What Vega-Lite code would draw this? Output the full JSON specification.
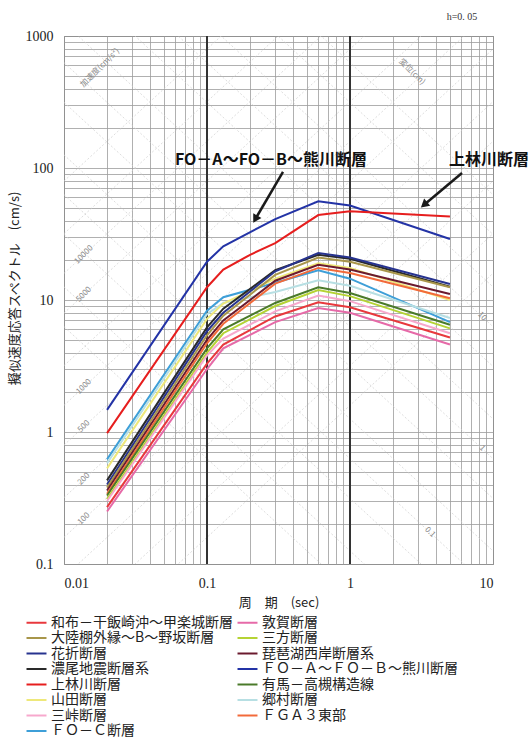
{
  "$schema": "https://vega.github.io/schema/vega-lite/v6.json",
  "width": 429,
  "height": 528,
  "autosize": {"type": "none"},
  "padding": {"left": 64, "top": 36, "right": 36, "bottom": 176},
  "background": "white",
  "config": {
    "view": {"stroke": "#666", "strokeWidth": 1},
    "font": "Liberation Serif"
  },
  "datasets": {
    "spec": [
      {"name": "ＦＯ－Ａ～ＦＯ－Ｂ～熊川断層", "T": 0.02, "V": 1.47},
      {"name": "ＦＯ－Ａ～ＦＯ－Ｂ～熊川断層", "T": 0.1, "V": 19.5},
      {"name": "ＦＯ－Ａ～ＦＯ－Ｂ～熊川断層", "T": 0.13, "V": 25.5},
      {"name": "ＦＯ－Ａ～ＦＯ－Ｂ～熊川断層", "T": 0.3, "V": 41},
      {"name": "ＦＯ－Ａ～ＦＯ－Ｂ～熊川断層", "T": 0.6, "V": 56},
      {"name": "ＦＯ－Ａ～ＦＯ－Ｂ～熊川断層", "T": 1, "V": 52},
      {"name": "ＦＯ－Ａ～ＦＯ－Ｂ～熊川断層", "T": 5, "V": 29},
      {"name": "上林川断層", "T": 0.02, "V": 0.98},
      {"name": "上林川断層", "T": 0.1, "V": 12.5},
      {"name": "上林川断層", "T": 0.13, "V": 17},
      {"name": "上林川断層", "T": 0.2, "V": 22},
      {"name": "上林川断層", "T": 0.3, "V": 27},
      {"name": "上林川断層", "T": 0.6, "V": 44},
      {"name": "上林川断層", "T": 1, "V": 47},
      {"name": "上林川断層", "T": 5, "V": 43},
      {"name": "ＦＯ－Ｃ断層", "T": 0.02, "V": 0.62},
      {"name": "ＦＯ－Ｃ断層", "T": 0.1, "V": 8.3},
      {"name": "ＦＯ－Ｃ断層", "T": 0.13, "V": 10.5},
      {"name": "ＦＯ－Ｃ断層", "T": 0.3, "V": 13.5},
      {"name": "ＦＯ－Ｃ断層", "T": 0.6, "V": 16.8},
      {"name": "ＦＯ－Ｃ断層", "T": 1, "V": 14.5},
      {"name": "ＦＯ－Ｃ断層", "T": 5, "V": 6.8},
      {"name": "郷村断層", "T": 0.02, "V": 0.58},
      {"name": "郷村断層", "T": 0.1, "V": 7.8},
      {"name": "郷村断層", "T": 0.13, "V": 9.5},
      {"name": "郷村断層", "T": 0.3, "V": 11.5},
      {"name": "郷村断層", "T": 0.6, "V": 14.1},
      {"name": "郷村断層", "T": 1, "V": 12.8},
      {"name": "郷村断層", "T": 5, "V": 7.3},
      {"name": "山田断層", "T": 0.02, "V": 0.53},
      {"name": "山田断層", "T": 0.1, "V": 7.2},
      {"name": "山田断層", "T": 0.13, "V": 9.4},
      {"name": "山田断層", "T": 0.3, "V": 14.5},
      {"name": "山田断層", "T": 0.6, "V": 19},
      {"name": "山田断層", "T": 1, "V": 17.5},
      {"name": "山田断層", "T": 5, "V": 10},
      {"name": "濃尾地震断層系", "T": 0.02, "V": 0.43},
      {"name": "濃尾地震断層系", "T": 0.1, "V": 6.2},
      {"name": "濃尾地震断層系", "T": 0.13, "V": 8.6},
      {"name": "濃尾地震断層系", "T": 0.3, "V": 16.8},
      {"name": "濃尾地震断層系", "T": 0.6, "V": 22},
      {"name": "濃尾地震断層系", "T": 1, "V": 20.5},
      {"name": "濃尾地震断層系", "T": 5, "V": 12.6},
      {"name": "花折断層", "T": 0.02, "V": 0.4},
      {"name": "花折断層", "T": 0.1, "V": 5.8},
      {"name": "花折断層", "T": 0.13, "V": 8},
      {"name": "花折断層", "T": 0.3, "V": 16.5},
      {"name": "花折断層", "T": 0.6, "V": 22.7},
      {"name": "花折断層", "T": 1, "V": 21},
      {"name": "花折断層", "T": 5, "V": 13.2},
      {"name": "大陸棚外縁～B～野坂断層", "T": 0.02, "V": 0.38},
      {"name": "大陸棚外縁～B～野坂断層", "T": 0.1, "V": 5.4},
      {"name": "大陸棚外縁～B～野坂断層", "T": 0.13, "V": 7.6},
      {"name": "大陸棚外縁～B～野坂断層", "T": 0.3, "V": 15.5},
      {"name": "大陸棚外縁～B～野坂断層", "T": 0.6, "V": 21},
      {"name": "大陸棚外縁～B～野坂断層", "T": 1, "V": 19.5},
      {"name": "大陸棚外縁～B～野坂断層", "T": 5, "V": 12.5},
      {"name": "琵琶湖西岸断層系", "T": 0.02, "V": 0.36},
      {"name": "琵琶湖西岸断層系", "T": 0.1, "V": 5},
      {"name": "琵琶湖西岸断層系", "T": 0.13, "V": 7},
      {"name": "琵琶湖西岸断層系", "T": 0.3, "V": 14},
      {"name": "琵琶湖西岸断層系", "T": 0.6, "V": 18.5},
      {"name": "琵琶湖西岸断層系", "T": 1, "V": 17},
      {"name": "琵琶湖西岸断層系", "T": 5, "V": 11.1},
      {"name": "ＦＧＡ３東部", "T": 0.02, "V": 0.34},
      {"name": "ＦＧＡ３東部", "T": 0.1, "V": 4.7},
      {"name": "ＦＧＡ３東部", "T": 0.13, "V": 6.6},
      {"name": "ＦＧＡ３東部", "T": 0.3, "V": 13.3},
      {"name": "ＦＧＡ３東部", "T": 0.6, "V": 17.5},
      {"name": "ＦＧＡ３東部", "T": 1, "V": 16},
      {"name": "ＦＧＡ３東部", "T": 5, "V": 10.3},
      {"name": "有馬－高槻構造線", "T": 0.02, "V": 0.33},
      {"name": "有馬－高槻構造線", "T": 0.1, "V": 4.3},
      {"name": "有馬－高槻構造線", "T": 0.13, "V": 6},
      {"name": "有馬－高槻構造線", "T": 0.3, "V": 9.5},
      {"name": "有馬－高槻構造線", "T": 0.6, "V": 12.5},
      {"name": "有馬－高槻構造線", "T": 1, "V": 11.3},
      {"name": "有馬－高槻構造線", "T": 5, "V": 6.5},
      {"name": "三方断層", "T": 0.02, "V": 0.31},
      {"name": "三方断層", "T": 0.1, "V": 4},
      {"name": "三方断層", "T": 0.13, "V": 5.6},
      {"name": "三方断層", "T": 0.3, "V": 9},
      {"name": "三方断層", "T": 0.6, "V": 11.9},
      {"name": "三方断層", "T": 1, "V": 10.7},
      {"name": "三方断層", "T": 5, "V": 6.1},
      {"name": "三峠断層", "T": 0.02, "V": 0.3},
      {"name": "三峠断層", "T": 0.1, "V": 3.8},
      {"name": "三峠断層", "T": 0.13, "V": 5.1},
      {"name": "三峠断層", "T": 0.3, "V": 8.2},
      {"name": "三峠断層", "T": 0.6, "V": 10.8},
      {"name": "三峠断層", "T": 1, "V": 9.8},
      {"name": "三峠断層", "T": 5, "V": 5.6},
      {"name": "和布－干飯崎沖～甲楽城断層", "T": 0.02, "V": 0.27},
      {"name": "和布－干飯崎沖～甲楽城断層", "T": 0.1, "V": 3.3},
      {"name": "和布－干飯崎沖～甲楽城断層", "T": 0.13, "V": 4.6},
      {"name": "和布－干飯崎沖～甲楽城断層", "T": 0.3, "V": 7.5},
      {"name": "和布－干飯崎沖～甲楽城断層", "T": 0.6, "V": 9.6},
      {"name": "和布－干飯崎沖～甲楽城断層", "T": 1, "V": 8.8},
      {"name": "和布－干飯崎沖～甲楽城断層", "T": 5, "V": 5.2},
      {"name": "敦賀断層", "T": 0.02, "V": 0.25},
      {"name": "敦賀断層", "T": 0.1, "V": 3},
      {"name": "敦賀断層", "T": 0.13, "V": 4.3},
      {"name": "敦賀断層", "T": 0.3, "V": 6.8},
      {"name": "敦賀断層", "T": 0.6, "V": 8.7},
      {"name": "敦賀断層", "T": 1, "V": 8},
      {"name": "敦賀断層", "T": 5, "V": 4.6}
    ],
    "accel": [
      {"A": 10, "T": 0.01, "V": 0.01592}, {"A": 10, "T": 10, "V": 15.92},
      {"A": 20, "T": 0.01, "V": 0.03183}, {"A": 20, "T": 10, "V": 31.83},
      {"A": 50, "T": 0.01, "V": 0.07958}, {"A": 50, "T": 10, "V": 79.58},
      {"A": 100, "T": 0.01, "V": 0.1592}, {"A": 100, "T": 10, "V": 159.2},
      {"A": 200, "T": 0.01, "V": 0.3183}, {"A": 200, "T": 10, "V": 318.3},
      {"A": 500, "T": 0.01, "V": 0.7958}, {"A": 500, "T": 10, "V": 795.8},
      {"A": 1000, "T": 0.01, "V": 1.592}, {"A": 1000, "T": 10, "V": 1592},
      {"A": 2000, "T": 0.01, "V": 3.183}, {"A": 2000, "T": 10, "V": 3183},
      {"A": 5000, "T": 0.01, "V": 7.958}, {"A": 5000, "T": 10, "V": 7958},
      {"A": 10000, "T": 0.01, "V": 15.92}, {"A": 10000, "T": 10, "V": 15920},
      {"A": 20000, "T": 0.01, "V": 31.83}, {"A": 20000, "T": 10, "V": 31830},
      {"A": 50000, "T": 0.01, "V": 79.58}, {"A": 50000, "T": 10, "V": 79580}
    ],
    "disp": [
      {"D": 0.01, "T": 0.01, "V": 6.283}, {"D": 0.01, "T": 10, "V": 0.006283},
      {"D": 0.02, "T": 0.01, "V": 12.57}, {"D": 0.02, "T": 10, "V": 0.01257},
      {"D": 0.05, "T": 0.01, "V": 31.42}, {"D": 0.05, "T": 10, "V": 0.03142},
      {"D": 0.1, "T": 0.01, "V": 62.83}, {"D": 0.1, "T": 10, "V": 0.06283},
      {"D": 0.2, "T": 0.01, "V": 125.7}, {"D": 0.2, "T": 10, "V": 0.1257},
      {"D": 0.5, "T": 0.01, "V": 314.2}, {"D": 0.5, "T": 10, "V": 0.3142},
      {"D": 1, "T": 0.01, "V": 628.3}, {"D": 1, "T": 10, "V": 0.6283},
      {"D": 2, "T": 0.01, "V": 1257}, {"D": 2, "T": 10, "V": 1.257},
      {"D": 5, "T": 0.01, "V": 3142}, {"D": 5, "T": 10, "V": 3.142},
      {"D": 10, "T": 0.01, "V": 6283}, {"D": 10, "T": 10, "V": 6.283},
      {"D": 20, "T": 0.01, "V": 12566}, {"D": 20, "T": 10, "V": 12.57},
      {"D": 50, "T": 0.01, "V": 31416}, {"D": 50, "T": 10, "V": 31.42},
      {"D": 100, "T": 0.01, "V": 62832}, {"D": 100, "T": 10, "V": 62.83}
    ],
    "accelLabels": [
      {"label": "10000", "T": 0.0138, "V": 21.96},
      {"label": "5000", "T": 0.0138, "V": 10.98},
      {"label": "1000", "T": 0.0138, "V": 2.196},
      {"label": "500", "T": 0.0138, "V": 1.098},
      {"label": "200", "T": 0.0138, "V": 0.439},
      {"label": "100", "T": 0.0138, "V": 0.2196},
      {"label": "加速度(cm/s²)", "T": 0.0179, "V": 573}
    ],
    "dispLabels": [
      {"label": "10", "T": 8.37, "V": 7.5},
      {"label": "1", "T": 8.37, "V": 0.75},
      {"label": "0.1", "T": 3.62, "V": 0.1735},
      {"label": "変位(cm)", "T": 2.71, "V": 534}
    ],
    "decades": [{"T": 0.1}, {"T": 1}],
    "arrows": [
      {"id": 1, "T": 0.34, "V": 93.3},
      {"id": 1, "T": 0.22, "V": 41.8},
      {"id": 2, "T": 6.07, "V": 91.6},
      {"id": 2, "T": 3.35, "V": 53.4}
    ],
    "heads": [
      {"id": 1, "T": 0.22, "V": 41.8},
      {"id": 2, "T": 3.35, "V": 53.4}
    ],
    "notes": [
      {"label": "FO－A～FO－B～熊川断層", "T": 0.28, "V": 115},
      {"label": "上林川断層", "T": 9.38, "V": 115}
    ],
    "damp": [{"label": "h=0. 05", "T": 6.07, "V": 1393}]
  },
  "layer": [
    {
      "data": {"name": "accel"},
      "mark": {"type": "line", "clip": true, "color": "#cfcfcf", "strokeWidth": 0.7, "strokeDash": [2, 2]},
      "encoding": {
        "x": {"field": "T", "type": "quantitative", "scale": {"type": "log", "domain": [0.01, 10]},
          "axis": {
            "values": [0.01,0.02,0.03,0.04,0.05,0.06,0.07,0.08,0.09,0.1,0.2,0.3,0.4,0.5,0.6,0.7,0.8,0.9,1,2,3,4,5,6,7,8,9,10],
            "labelExpr": "datum.value == 0.01 ? '0.01' : datum.value == 0.1 ? '0.1' : datum.value == 1 ? '1' : datum.value == 10 ? '10' : ''",
            "labelOverlap": false,
            "ticks": false,
            "domain": false,
            "grid": true,
            "gridColor": "#9c9c9c",
            "gridWidth": 0.8,
            "labelFont": "Liberation Serif",
            "labelFontSize": 14,
            "labelColor": "#222",
            "labelPadding": 12,
            "title": "周　期　(sec)",
            "titleFont": "Noto Sans CJK JP",
            "titleFontSize": 13,
            "titleFontWeight": "normal",
            "titleColor": "#222",
            "titlePadding": 6
          }
        },
        "y": {"field": "V", "type": "quantitative", "scale": {"type": "log", "domain": [0.1, 1000]},
          "axis": {
            "values": [0.1,0.2,0.3,0.4,0.5,0.6,0.7,0.8,0.9,1,2,3,4,5,6,7,8,9,10,20,30,40,50,60,70,80,90,100,200,300,400,500,600,700,800,900,1000],
            "labelExpr": "datum.value == 0.1 ? '0.1' : datum.value == 1 ? '1' : datum.value == 10 ? '10' : datum.value == 100 ? '100' : datum.value == 1000 ? '1000' : ''",
            "labelOverlap": false,
            "ticks": false,
            "domain": false,
            "grid": true,
            "gridColor": "#9c9c9c",
            "gridWidth": 0.8,
            "labelFont": "Liberation Serif",
            "labelFontSize": 14,
            "labelColor": "#222",
            "labelPadding": 11,
            "title": "擬似速度応答スペクトル　(cm/s)",
            "titleFont": "Noto Sans CJK JP",
            "titleFontSize": 13,
            "titleFontWeight": "normal",
            "titleColor": "#222",
            "titlePadding": 4,
            "titleY": 252
          }
        },
        "detail": {"field": "A", "type": "nominal"}
      }
    },
    {
      "data": {"name": "disp"},
      "mark": {"type": "line", "clip": true, "color": "#cfcfcf", "strokeWidth": 0.7, "strokeDash": [2, 2]},
      "encoding": {
        "x": {"field": "T", "type": "quantitative"},
        "y": {"field": "V", "type": "quantitative"},
        "detail": {"field": "D", "type": "nominal"}
      }
    },
    {
      "data": {"name": "accelLabels"},
      "mark": {"type": "text", "angle": -45, "fontSize": 8, "color": "#8a8a8a", "font": "Noto Sans CJK JP"},
      "encoding": {
        "x": {"field": "T", "type": "quantitative"},
        "y": {"field": "V", "type": "quantitative"},
        "text": {"field": "label"}
      }
    },
    {
      "data": {"name": "dispLabels"},
      "mark": {"type": "text", "angle": 45, "fontSize": 8, "color": "#8a8a8a", "font": "Noto Sans CJK JP"},
      "encoding": {
        "x": {"field": "T", "type": "quantitative"},
        "y": {"field": "V", "type": "quantitative"},
        "text": {"field": "label"}
      }
    },
    {
      "data": {"name": "decades"},
      "mark": {"type": "rule", "color": "#333", "strokeWidth": 2},
      "encoding": {
        "x": {"field": "T", "type": "quantitative"}
      }
    },
    {
      "data": {"name": "spec"},
      "mark": {"type": "line", "clip": true},
      "encoding": {
        "x": {"field": "T", "type": "quantitative"},
        "y": {"field": "V", "type": "quantitative"},
        "color": {
          "field": "name", "type": "nominal",
          "scale": {
            "domain": ["和布－干飯崎沖～甲楽城断層", "大陸棚外縁～B～野坂断層", "花折断層", "濃尾地震断層系", "上林川断層", "山田断層", "三峠断層", "ＦＯ－Ｃ断層", "敦賀断層", "三方断層", "琵琶湖西岸断層系", "ＦＯ－Ａ～ＦＯ－Ｂ～熊川断層", "有馬－高槻構造線", "郷村断層", "ＦＧＡ３東部"],
            "range": ["#e8383d", "#a8964a", "#27338f", "#2a2a2a", "#e61e1e", "#eee87a", "#f7a8cd", "#3e9fd8", "#e66aa8", "#b5d334", "#6b1a2e", "#2333a6", "#4a7a2a", "#b7dfe3", "#f26a3a"]
          },
          "legend": {
            "orient": "none",
            "legendX": -35,
            "legendY": 579,
            "columns": 2,
            "columnPadding": 0,
            "rowPadding": 0.5,
            "padding": 0,
            "title": null,
            "symbolType": "M-1.6,0H1.6",
            "symbolSize": 156,
            "symbolStrokeWidth": 2,
            "labelFont": "Noto Sans CJK JP",
            "labelFontSize": 14,
            "labelColor": "#222",
            "labelOffset": 7,
            "labelLimit": 300
          }
        },
        "strokeWidth": {
          "field": "name", "type": "nominal",
          "scale": {
            "domain": ["和布－干飯崎沖～甲楽城断層", "大陸棚外縁～B～野坂断層", "花折断層", "濃尾地震断層系", "上林川断層", "山田断層", "三峠断層", "ＦＯ－Ｃ断層", "敦賀断層", "三方断層", "琵琶湖西岸断層系", "ＦＯ－Ａ～ＦＯ－Ｂ～熊川断層", "有馬－高槻構造線", "郷村断層", "ＦＧＡ３東部"],
            "range": [2, 2, 2, 2, 3, 3, 2, 2, 2, 2, 2, 3, 2, 2, 2]
          },
          "legend": {
            "orient": "none",
            "legendX": -35,
            "legendY": 579,
            "columns": 2,
            "columnPadding": 0,
            "rowPadding": 0.5,
            "padding": 0,
            "title": null,
            "symbolType": "M-1.6,0H1.6",
            "symbolSize": 156,
            "labelFont": "Noto Sans CJK JP",
            "labelFontSize": 14,
            "labelColor": "#222",
            "labelOffset": 7,
            "labelLimit": 300
          }
        }
      }
    },
    {
      "data": {"name": "arrows"},
      "mark": {"type": "line", "color": "#1a1a1a", "strokeWidth": 2.5},
      "encoding": {
        "x": {"field": "T", "type": "quantitative"},
        "y": {"field": "V", "type": "quantitative"},
        "detail": {"field": "id", "type": "nominal"}
      }
    },
    {
      "data": {"name": "heads"},
      "mark": {"type": "point", "shape": "triangle", "filled": true, "color": "#1a1a1a", "size": 90, "opacity": 1},
      "encoding": {
        "x": {"field": "T", "type": "quantitative"},
        "y": {"field": "V", "type": "quantitative"},
        "angle": {"condition": {"test": "datum.id == 1", "value": 210}, "value": 230}
      }
    },
    {
      "data": {"name": "notes"},
      "mark": {"type": "text", "font": "Noto Sans CJK JP", "fontWeight": "bold", "fontSize": 16, "color": "#111"},
      "encoding": {
        "x": {"field": "T", "type": "quantitative"},
        "y": {"field": "V", "type": "quantitative"},
        "text": {"field": "label"}
      }
    },
    {
      "data": {"name": "damp"},
      "mark": {"type": "text", "font": "Liberation Serif", "fontSize": 10, "color": "#333"},
      "encoding": {
        "x": {"field": "T", "type": "quantitative"},
        "y": {"field": "V", "type": "quantitative"},
        "text": {"field": "label"}
      }
    }
  ]
}
